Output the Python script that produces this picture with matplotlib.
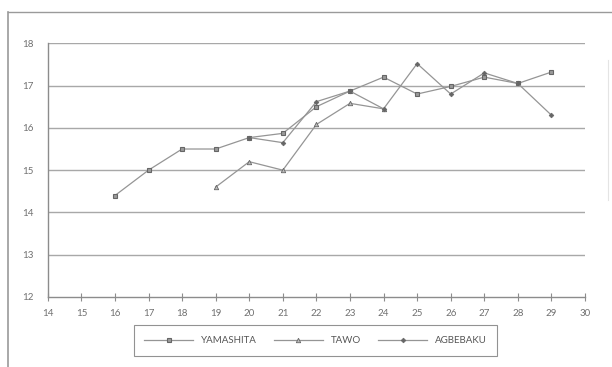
import matplotlib
matplotlib.use("Agg")
import matplotlib.pyplot as plt
from matplotlib.lines import Line2D

# Series data
yamashita_x = [16, 17, 18, 19, 20, 21, 22, 23, 24, 25, 26, 27, 28, 29]
yamashita_y = [14.4, 15.0, 15.5, 15.5, 15.77, 15.87, 16.5, 16.87, 17.2, 16.8, 16.98, 17.2, 17.05, 17.32]

tawo_x = [19, 20, 21, 22, 23, 24]
tawo_y = [14.6, 15.2, 15.0, 16.08, 16.58, 16.45]

agbebaku_x = [20, 21, 22, 23, 24, 25, 26, 27, 28, 29]
agbebaku_y = [15.77, 15.65, 16.62, 16.87, 16.45, 17.52, 16.8, 17.3, 17.05, 16.3]

x_ticks = list(range(14, 31))
y_ticks = list(range(12, 19))

W, H = 612, 367
fig = plt.figure(figsize=(W / 100, H / 100), dpi=100)
fig.patch.set_facecolor("white")

plt.rcParams["font.family"] = ["Lato", "DejaVu Sans"]

# outer frame lines (top and left)
frame_col = "#9a9a9a"
fig.add_artist(Line2D([8 / W, 1.0], [1 - 12 / H, 1 - 12 / H], transform=fig.transFigure,
                      color=frame_col, lw=1.0))
fig.add_artist(Line2D([8 / W, 8 / W], [0, 1 - 12 / H], transform=fig.transFigure,
                      color=frame_col, lw=1.2))
fig.add_artist(Line2D([608 / W, 608 / W], [1 - 200 / H, 1 - 60 / H], transform=fig.transFigure,
                      color="#e4e4e4", lw=0.8))

left, right = 47.8 / W, 585 / W
bottom, top = 1 - 297 / H, 1 - 43.3 / H
ax = fig.add_axes([left, bottom, right - left, top - bottom])
ax.set_xlim(14, 30)
ax.set_ylim(12, 18)

grid_col = "#a8a8a8"
for v in y_ticks[1:]:
    ax.axhline(v, color=grid_col, lw=1.0, zorder=1)

for s in ["top", "right"]:
    ax.spines[s].set_visible(False)
for s in ["left", "bottom"]:
    ax.spines[s].set_color("#8c8c8c")
    ax.spines[s].set_linewidth(1.0)

line_col = "#959595"
mk_col = "#666666"
l1, = ax.plot(yamashita_x, yamashita_y, color=line_col, lw=0.9, marker="s", ms=3.2,
              mfc="#9a9a9a", mec=mk_col, mew=0.8, zorder=3, label="YAMASHITA")
l2, = ax.plot(tawo_x, tawo_y, color=line_col, lw=0.9, marker="^", ms=3.2,
              mfc="#bbbbbb", mec=mk_col, mew=0.6, zorder=3, label="TAWO")
l3, = ax.plot(agbebaku_x, agbebaku_y, color=line_col, lw=0.9, marker="D", ms=2.4,
              mfc=mk_col, mec=mk_col, mew=0.5, zorder=4, label="AGBEBAKU")

ax.set_xticks(x_ticks)
ax.set_yticks(y_ticks)
ax.set_xticklabels([str(v) for v in x_ticks])
ax.set_yticklabels([str(v) for v in y_ticks])
ax.tick_params(axis="x", direction="inout", length=6, width=0.8, color="#8c8c8c",
               labelsize=7, labelcolor="#707070", pad=6)
ax.tick_params(axis="y", length=0, labelsize=7, labelcolor="#707070", pad=10)

leg = fig.legend(handles=[l1, l2, l3], loc="center",
                 bbox_to_anchor=(315.5 / W, 1 - 340.5 / H), ncol=3,
                 fontsize=7, frameon=True, fancybox=False, handlelength=5,
                 handletextpad=0.8, columnspacing=1.8, borderpad=1.1)
leg.get_frame().set_edgecolor("#777777")
leg.get_frame().set_linewidth(0.8)
for t in leg.get_texts():
    t.set_color("#555555")

fig.savefig("out.png", dpi=100)
